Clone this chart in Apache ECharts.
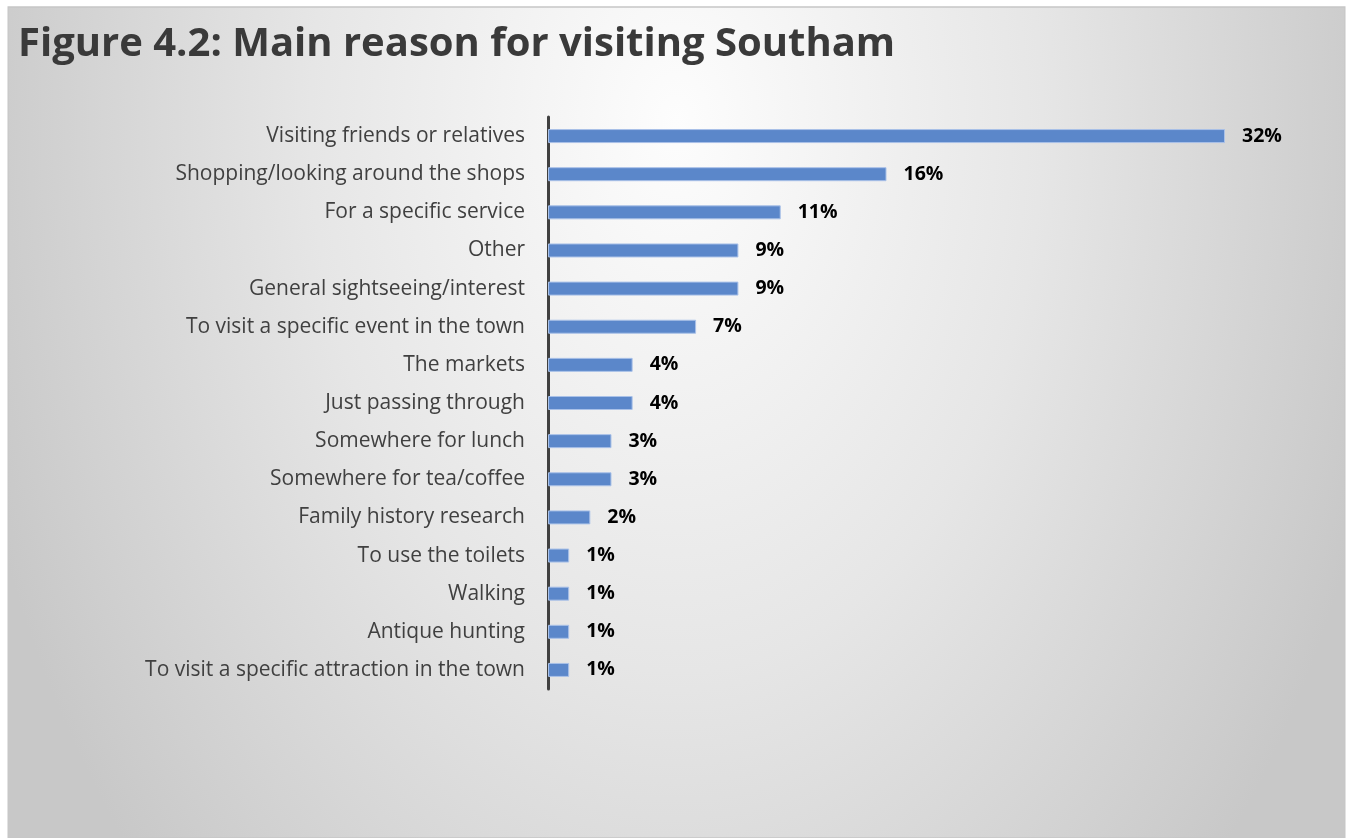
<!DOCTYPE html>
<html>
<head>
<meta charset="utf-8">
<title>Main reason for visiting Southam</title>
<script src="https://cdn.jsdelivr.net/npm/echarts@6/dist/echarts.min.js"></script>
<style>
  html, body { margin: 0; padding: 0; background: #ffffff; }
  #chart { width: 1352px; height: 838px; }
</style>
</head>
<body>
<div id="chart"></div>
<script>
// Survey: main reason respondents gave for visiting Southam (percent of visitors)
const titleText = 'Figure 4.2: Main reason for visiting Southam';
const reasons = [
  'Visiting friends or relatives',
  'Shopping/looking around the shops',
  'For a specific service',
  'Other',
  'General sightseeing/interest',
  'To visit a specific event in the town',
  'The markets',
  'Just passing through',
  'Somewhere for lunch',
  'Somewhere for tea/coffee',
  'Family history research',
  'To use the toilets',
  'Walking',
  'Antique hunting',
  'To visit a specific attraction in the town'
];
const shares = [32, 16, 11, 9, 9, 7, 4, 4, 3, 3, 2, 1, 1, 1, 1];

const FONT = '"Open Sans", "Liberation Sans", sans-serif';
const chart = echarts.init(document.getElementById('chart'), null, { renderer: 'canvas' });

// Panel with an elliptical light spot near the top centre: a radial fill drawn
// in a squashed rect and stretched back vertically.
const PANEL = { x: 8, y: 7, w: 1337, h: 831 };
const STRETCH = 1.5;
const localH = PANEL.h / STRETCH;

chart.setOption({
  backgroundColor: '#ffffff',
  animation: false,
  graphic: [
    {
      type: 'rect',
      z: -10,
      silent: true,
      x: PANEL.x,
      y: PANEL.y,
      scaleY: STRETCH,
      shape: { x: 0, y: 0, width: PANEL.w, height: localH },
      style: {
        fill: {
          type: 'radial', x: 0.5, y: 0.14, r: 730 / Math.min(PANEL.w, localH),
          colorStops: [
            { offset: 0, color: '#fdfdfd' },
            { offset: 0.5, color: '#e6e6e6' },
            { offset: 1, color: '#c8c8c8' }
          ]
        },
        stroke: '#c6c6c6',
        lineWidth: 1,
        strokeNoScale: true
      }
    }
  ],
  title: {
    text: titleText,
    left: 13,
    top: 20,
    textStyle: { fontFamily: FONT, fontWeight: 'bold', fontSize: 40, color: '#3a3a3a' }
  },
  grid: { left: 548, top: 117, width: 677, height: 572, containLabel: false },
  xAxis: {
    type: 'value', min: 0, max: 32, show: false
  },
  yAxis: {
    type: 'category',
    data: reasons,
    inverse: true,
    axisLine: { show: true, lineStyle: { color: '#404040', width: 3 } },
    axisTick: { show: false },
    splitLine: { show: false },
    axisLabel: { margin: 23, fontFamily: FONT, fontSize: 21, color: '#404040' }
  },
  series: [{
    type: 'bar',
    data: shares,
    barWidth: 14,
    itemStyle: { color: '#5b87ca', borderColor: '#a9c1e8', borderWidth: 1 },
    label: {
      show: true, position: 'right', distance: 17,
      formatter: p => p.value + '%',
      fontFamily: FONT, fontWeight: 'bold', fontSize: 19.5, color: '#000000'
    }
  }]
});
</script>
</body>
</html>
